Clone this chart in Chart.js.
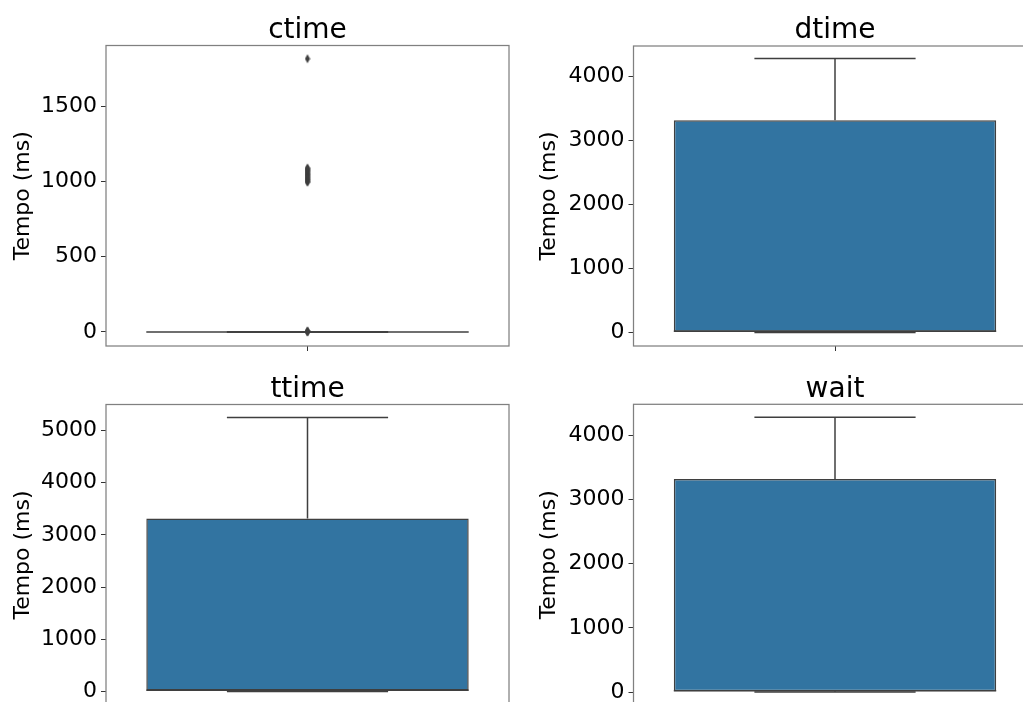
<!DOCTYPE html>
<html><head><meta charset="utf-8">
<script src="https://cdn.jsdelivr.net/npm/chart.js@4.4.1/dist/chart.umd.min.js"></script>
<style>
html,body{margin:0;padding:0;background:#fff;overflow:hidden;width:1023px;height:702px;position:relative}
canvas{position:absolute}
</style></head><body>
<canvas id="c0" width="520" height="360" style="left:0;top:0;width:520px;height:360px"></canvas>
<canvas id="c1" width="520" height="360" style="left:520px;top:0;width:520px;height:360px"></canvas>
<canvas id="c2" width="520" height="360" style="left:0;top:360px;width:520px;height:360px"></canvas>
<canvas id="c3" width="520" height="360" style="left:520px;top:360px;width:520px;height:360px"></canvas>
<script>
// ---- data ----
const panelTitles = ['ctime', 'dtime', 'ttime', 'wait'];
const yAxisLabel = 'Tempo (ms)';
// box summaries: [lower whisker, Q1, median, Q3, upper whisker]
const ctimeBox = [0, 0, 0, 0, 0];
const dtimeBox = [0, 12, 20, 3320, 4285];
const ttimeBox = [0, 18, 25, 3316, 5250];
const waitBox  = [0, 12, 20, 3318, 4280];
// outliers (fliers)
const ctimeOutliers = [1, 2, 4, 6, 995, 1000, 1008, 1015, 1022, 1030, 1038, 1045, 1052, 1060, 1068, 1075, 1082, 1090, 1815];
const dtimeOutliers = [];
const ttimeOutliers = [];
const waitOutliers  = [];
// y tick labels
const ctimeTicks = [0, 500, 1000, 1500];
const dtimeTicks = [0, 1000, 2000, 3000, 4000];
const ttimeTicks = [0, 1000, 2000, 3000, 4000, 5000];
const waitTicks  = [0, 1000, 2000, 3000, 4000];
// y axis limits
const ctimeRange = [-93, 1903];
const dtimeRange = [-210, 4480];
const ttimeRange = [-268, 5498];
const waitRange  = [-207, 4483];

// ---- styling / layout ----
Chart.defaults.font.family = 'DejaVu Sans';
const DARK = '#3f3f3f';
const FILL = '#3274a1';

function thinDiamond() {
  const c = document.createElement('canvas');
  c.width = 6; c.height = 10;
  const g = c.getContext('2d');
  g.fillStyle = DARK;
  g.beginPath();
  g.moveTo(3, 0.5); g.lineTo(5.6, 5); g.lineTo(3, 9.5); g.lineTo(0.4, 5);
  g.closePath(); g.fill();
  return c;
}
const diamond = thinDiamond();

const framePlugin = {
  id: 'frame',
  afterDatasetsDraw(chart) {
    const { ctx, chartArea: a } = chart;
    ctx.save();
    ctx.strokeStyle = '#808080';
    ctx.lineWidth = 1.25;
    ctx.strokeRect(a.left, a.top, a.right - a.left, a.bottom - a.top);
    ctx.restore();
  }
};

function makePanel(id, title, box, outliers, ticks, range, L) {
  const [lo, q1, med, q3, hi] = box;
  const lineDs = (pts) => ({
    type: 'line', xAxisID: 'x2', yAxisID: 'y', data: pts,
    borderColor: DARK, borderWidth: 1.5, pointRadius: 0, fill: false, tension: 0, order: 0
  });
  new Chart(document.getElementById(id), {
    type: 'bar',
    data: {
      labels: [''],
      datasets: [
        { type: 'bar', xAxisID: 'x', yAxisID: 'y', data: [[q1, q3]], grouped: false,
          backgroundColor: FILL, borderColor: DARK, borderWidth: 1.5, borderSkipped: false,
          barPercentage: 0.8, categoryPercentage: 1, order: 2 },
        lineDs([{ x: 0, y: q3 }, { x: 0, y: hi }]),
        lineDs([{ x: 0, y: lo }, { x: 0, y: q1 }]),
        lineDs([{ x: -0.2, y: hi }, { x: 0.2, y: hi }]),
        lineDs([{ x: -0.2, y: lo }, { x: 0.2, y: lo }]),
        lineDs([{ x: -0.4, y: med }, { x: 0.4, y: med }]),
        { type: 'scatter', xAxisID: 'x2', yAxisID: 'y', data: outliers.map(v => ({ x: 0, y: v })),
          pointStyle: diamond, pointRadius: 4, order: 0 }
      ]
    },
    options: {
      responsive: false, animation: false, devicePixelRatio: 1,
      layout: { padding: { left: 0, top: 0, bottom: 0, right: L.rp } },
      plugins: {
        legend: { display: false },
        tooltip: { enabled: false },
        title: {
          display: true, text: title, fullSize: false, color: '#000',
          font: { family: 'DejaVu Sans', size: 28, weight: 'normal', lineHeight: 1 },
          padding: { top: L.tt, bottom: L.tb }
        }
      },
      scales: {
        x: {
          type: 'category', position: 'bottom', offset: true,
          grid: { display: true, drawOnChartArea: false, offset: false, tickLength: 5, tickColor: '#333', tickWidth: 1 },
          border: { display: false },
          ticks: { display: true, padding: 0, font: { size: 10 } },
          afterFit: s => { s.height = L.xh; }
        },
        x2: { type: 'linear', min: -0.5, max: 0.5, offset: false, grace: 0, display: false },
        y: {
          type: 'linear', position: 'left', min: range[0], max: range[1],
          afterBuildTicks: s => { s.ticks = ticks.map(v => ({ value: v })); },
          ticks: { color: '#000', padding: 4, font: { family: 'DejaVu Sans', size: 22, lineHeight: 0.4 },
                   callback: v => String(v) },
          grid: { display: true, drawOnChartArea: false, tickLength: 5, tickColor: '#333', tickWidth: 1 },
          border: { display: false },
          title: {
            display: true, text: yAxisLabel, color: '#000',
            font: { family: 'DejaVu Sans', size: 22, lineHeight: 1.2 },
            padding: { top: L.yt, bottom: 0 }
          },
          afterFit: s => { s.width = L.yw; }
        }
      }
    },
    plugins: [framePlugin]
  });
}

makePanel('c0', panelTitles[0], ctimeBox, ctimeOutliers, ctimeTicks, ctimeRange,
  { yw: 106, rp: 11, tt: 17, tb: 0.5, xh: 14, yt: 9.6 });
makePanel('c1', panelTitles[1], dtimeBox, dtimeOutliers, dtimeTicks, dtimeRange,
  { yw: 113.5, rp: 3.5, tt: 17, tb: 1, xh: 14, yt: 15.6 });
makePanel('c2', panelTitles[2], ttimeBox, ttimeOutliers, ttimeTicks, ttimeRange,
  { yw: 106, rp: 11, tt: 16, tb: 0.5, xh: 14.5, yt: 9.6 });
makePanel('c3', panelTitles[3], waitBox, waitOutliers, waitTicks, waitRange,
  { yw: 113.5, rp: 3.5, tt: 16, tb: 0.3, xh: 14.7, yt: 15.6 });
</script>
</body></html>
